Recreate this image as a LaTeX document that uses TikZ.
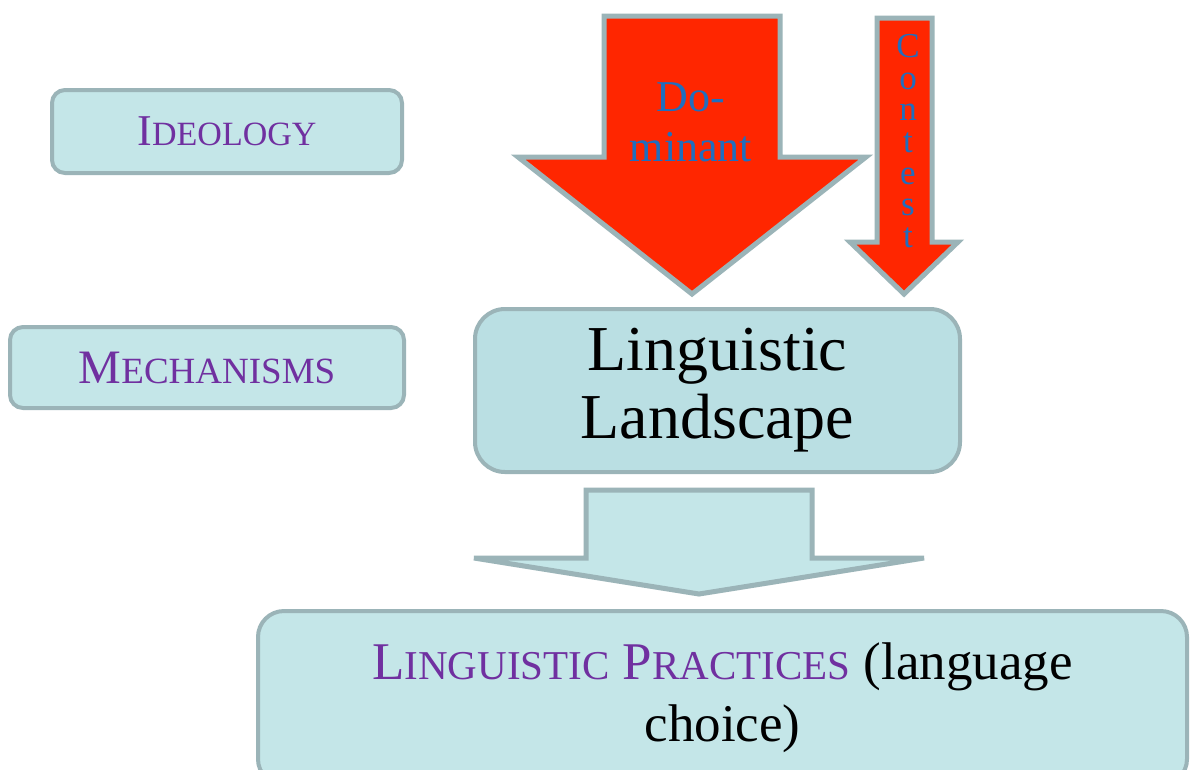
\documentclass[tikz,border=0pt]{standalone}
\usepackage{fontspec}
\setmainfont{Liberation Serif}
\newfontfamily\timesfam{Liberation Serif}
\definecolor{boxfill}{RGB}{196,230,232}
\definecolor{llfill}{RGB}{186,223,227}
\definecolor{boxline}{RGB}{155,180,184}
\definecolor{arrred}{RGB}{255,38,0}
\definecolor{txtpurple}{RGB}{112,48,160}
\definecolor{txtblue}{RGB}{32,110,190}
\begin{document}
\begin{tikzpicture}[x=1pt,y=-1pt,
  roundbox/.style={draw=boxline,fill=boxfill,line width=4pt,rounded corners=13pt,inner sep=0pt},
  bigarrow/.style={draw=boxline,line width=5pt,line join=miter,miter limit=6},
  labeltext/.style={inner sep=0pt,align=center}]
\clip (0,0) rectangle (1190,769);
\fill[white] (0,0) rectangle (1190,769);
% left boxes
\node[roundbox,minimum width=350,minimum height=83,text=txtpurple,
  font=\timesfam\fontsize{44}{44}\selectfont] (ideology) at (227,131.5)
  {I{\fontsize{34}{34}\selectfont DEOLOGY}};
\node[roundbox,minimum width=394,minimum height=81,text=txtpurple,
  font=\timesfam\fontsize{48}{48}\selectfont] (mech) at (207,367.5)
  {M{\fontsize{37}{37}\selectfont ECHANISMS}};
% red arrows
\draw[bigarrow,fill=arrred] (604,16) -- (780,16) -- (780,157) -- (866,157)
  -- (692,294) -- (518,157) -- (604,157) -- cycle;
\node[labeltext,text=txtblue,font=\timesfam\fontsize{44}{50}\selectfont] (dominant) at (691,122.5) {Do-\\minant};
\draw[bigarrow,fill=arrred] (877,18) -- (932,18) -- (932,242) -- (958,242)
  -- (904,294) -- (850,242) -- (877,242) -- cycle;
\node[labeltext,text=txtblue,font=\timesfam\fontsize{35}{31.7}\selectfont] (contest) at (908,141)
  {C\\o\\n\\t\\e\\s\\t};
% linguistic landscape
\node[roundbox,fill=llfill,rounded corners=30pt,minimum width=485,minimum height=163,
  align=center,font=\timesfam\fontsize{64}{68}\selectfont] (ll) at (717.5,390.5)
  {Linguistic\\Landscape};
% light arrow
\draw[bigarrow,fill=boxfill] (586,490) -- (812,490) -- (812,558) -- (924,558)
  -- (699,594) -- (474,558) -- (586,558) -- cycle;
% bottom box
\node[roundbox,rounded corners=26pt,minimum width=929,minimum height=174,
  align=center,font=\timesfam\fontsize{53}{62}\selectfont] (practices) at (722.5,698)
  {{\color{txtpurple}L{\fontsize{41}{41}\selectfont INGUISTIC} P{\fontsize{41}{41}\selectfont RACTICES}} (language\\choice)};
\end{tikzpicture}
\end{document}
